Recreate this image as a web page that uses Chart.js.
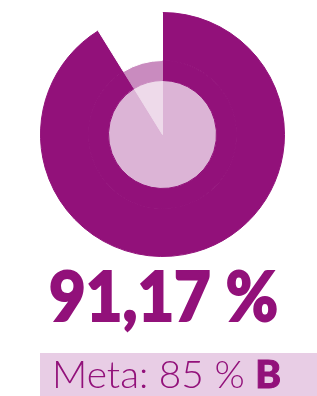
<!DOCTYPE html>
<html>
<head>
<meta charset="utf-8">
<script src="https://cdn.jsdelivr.net/npm/chart.js@4/dist/chart.umd.min.js"></script>
<style>
  html, body { margin: 0; padding: 0; background: #fff; }
  body { width: 317px; height: 396px; position: relative; overflow: hidden; font-family: Lato, "Open Sans", sans-serif; }
  #wrap { position: absolute; left: 39.5px; top: 11.5px; width: 245px; height: 245px; }
  #valor { position: absolute; left: 49px; top: 255px; font-size: 68px; line-height: 80px; font-weight: 900; color: #92117a; white-space: nowrap; transform-origin: 0 0; -webkit-text-stroke: 2px #92117a; }
  #meta { position: absolute; left: 40px; top: 353px; width: 277px; height: 43px; background: #e8cde5; }
  #metaTxt { position: absolute; left: 12px; top: -1px; font-size: 38px; font-weight: 300; color: #92117a; white-space: nowrap; line-height: 43px; transform-origin: 0 0; }
  #metaTxt b { font-weight: 900; -webkit-text-stroke: 1px #92117a; }
</style>
</head>
<body>
<div id="wrap"><canvas id="grafico" width="245" height="245"></canvas></div>
<div id="valor"></div>
<div id="meta"><div id="metaTxt"></div></div>
<script>
const valoreAttuale = 91.17;
const meta = 85;
const classe = 'B';
const coloriAnello = ['#92117a', '#ffffff'];
const coloriMedio = ['#92117a', '#c98bbf'];
const coloriInterno = ['#dcb4d6', '#eedaea'];

const parti = [valoreAttuale, 100 - valoreAttuale];

const ctx = document.getElementById('grafico').getContext('2d');
new Chart(ctx, {
    type: 'doughnut',
    data: {
        labels: ['Attuale', 'Resto'],
        datasets: [
            { data: parti, backgroundColor: coloriAnello, borderColor: coloriAnello, borderWidth: 1, weight: 48 },
            { data: parti, backgroundColor: coloriMedio, borderColor: coloriMedio, borderWidth: 1, weight: 20 },
            { data: parti, backgroundColor: coloriInterno, borderColor: coloriInterno, borderWidth: 1, weight: 54 }
        ]
    },
    options: {
        responsive: false,
        animation: false,
        cutout: 0,
        layout: { padding: 0 },
        plugins: { legend: { display: false }, tooltip: { enabled: false } }
    }
});

const fmt = v => v.toFixed(2).replace('.', ',');
const valor = document.getElementById('valor');
valor.textContent = fmt(valoreAttuale) + ' %';
const metaTxt = document.getElementById('metaTxt');
metaTxt.innerHTML = 'Meta: ' + meta + ' % <b>' + classe + '</b>';

// allarga i testi alla larghezza del riferimento
const sx1 = 229 / valor.offsetWidth;
valor.style.transform = 'scaleX(' + sx1 + ')';
const sx2 = 229 / metaTxt.offsetWidth;
metaTxt.style.transform = 'scaleX(' + sx2 + ')';
</script>
</body>
</html>
